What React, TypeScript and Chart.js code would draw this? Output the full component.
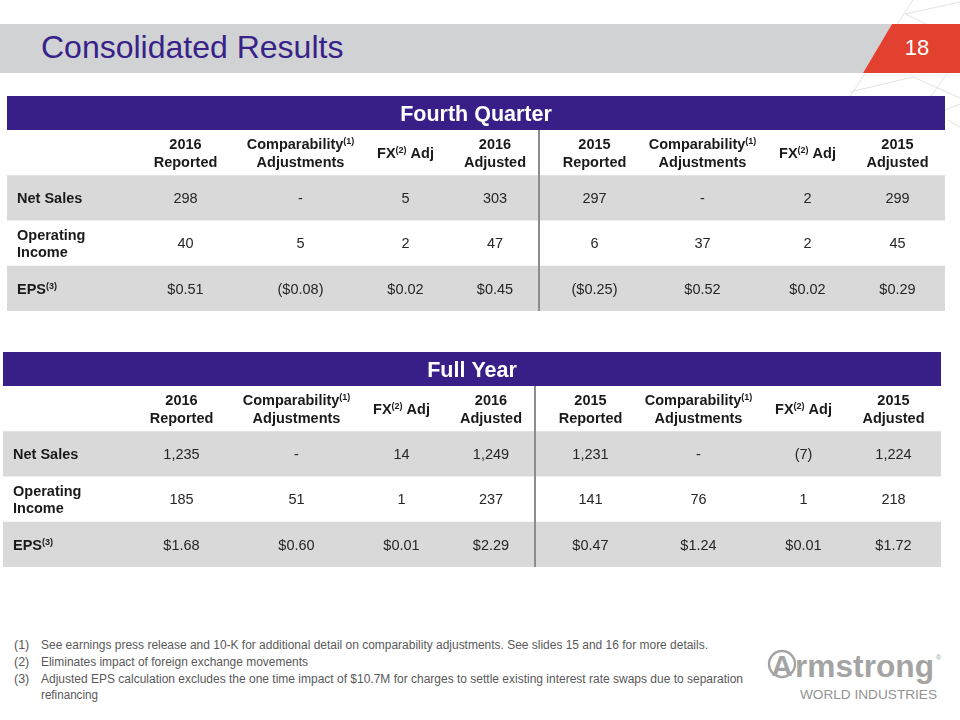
import React, { useEffect, useRef } from "react";
import { Chart, registerables } from "chart.js";

Chart.register(...registerables);

// ---------- data ----------
const slideTitle = "Consolidated Results";
const pageNumber = "18";
const columnLabels = [
  "2016\nReported",
  "Comparability^(1)\nAdjustments",
  "FX^(2) Adj",
  "2016\nAdjusted",
  "2015\nReported",
  "Comparability^(1)\nAdjustments",
  "FX^(2) Adj",
  "2015\nAdjusted",
];
const rowLabels = ["Net Sales", "Operating\nIncome", "EPS^(3)"];

const q4Title = "Fourth Quarter";
const q4NetSales = [298, null, 5, 303, 297, null, 2, 299];
const q4OperatingIncome = [40, 5, 2, 47, 6, 37, 2, 45];
const q4Eps = [0.51, -0.08, 0.02, 0.45, -0.25, 0.52, 0.02, 0.29];

const fyTitle = "Full Year";
const fyNetSales = [1235, null, 14, 1249, 1231, null, -7, 1224];
const fyOperatingIncome = [185, 51, 1, 237, 141, 76, 1, 218];
const fyEps = [1.68, 0.6, 0.01, 2.29, 0.47, 1.24, 0.01, 1.72];

const footnotes = [
  ["(1)", "See earnings press release and 10-K for additional detail on comparability adjustments. See slides 15 and 16 for more details."],
  ["(2)", "Eliminates impact of foreign exchange movements"],
  ["(3)", "Adjusted EPS calculation excludes the one time impact of $10.7M for charges to settle existing interest rate swaps due to separation"],
  ["", "refinancing"],
];

// ---------- layout / style ----------
const COL_WIDTHS = [123, 111, 119, 91, 88, 111, 105, 105, 75];
const TABLE_W = 938;
const TABLE_H = 215;
const BAND_H = 34;
const ROW_H = (TABLE_H - BAND_H) / 4;
const DIVIDER_AFTER = 5;
const PURPLE = "#381f88";
const STRIPE = "#d9d9d9";
const FONT = '"Liberation Sans", Arial, sans-serif';
const NARROW = '"Liberation Sans Narrow", "Arial Narrow", "Liberation Sans", sans-serif';

function fmtInt(v: number | null): string {
  if (v === null) return "-";
  const s = Math.abs(v).toLocaleString("en-US");
  return v < 0 ? `(${s})` : s;
}
function fmtEps(v: number | null): string {
  if (v === null) return "-";
  const s = "$" + Math.abs(v).toFixed(2);
  return v < 0 ? `(${s})` : s;
}

type Seg = { t: string; sup: boolean };
function parseRich(s: string): Seg[] {
  return s
    .split(/(\^\([^)]*\))/)
    .filter((p) => p.length > 0)
    .map((p) => (p.startsWith("^") ? { t: p.slice(1), sup: true } : { t: p, sup: false }));
}

function drawRich(
  ctx: CanvasRenderingContext2D,
  s: string,
  x: number,
  baseline: number,
  align: "left" | "center",
  font: string,
  supFont: string
) {
  const segs = parseRich(s);
  const widths = segs.map((g) => {
    ctx.font = g.sup ? supFont : font;
    return ctx.measureText(g.t).width;
  });
  const total = widths.reduce((a, b) => a + b, 0);
  let cx = align === "center" ? x - total / 2 : x;
  ctx.textAlign = "left";
  ctx.textBaseline = "alphabetic";
  segs.forEach((g, i) => {
    ctx.font = g.sup ? supFont : font;
    ctx.fillText(g.t, cx, g.sup ? baseline - 5 : baseline);
    cx += widths[i];
  });
}

type Row = { label: string; values: (number | null)[]; fmt: (v: number | null) => string };

function tablePlugin(title: string, rows: Row[]) {
  return {
    id: "tablePlugin",
    afterDraw(chart: any) {
      const ctx: CanvasRenderingContext2D = chart.ctx;
      const xs = chart.scales.x;
      const ys = chart.scales.y;
      const X = (v: number) => xs.getPixelForValue(v);
      const Y = (v: number) => ys.getPixelForValue(v);
      const edges = [0];
      COL_WIDTHS.forEach((w) => edges.push(edges[edges.length - 1] + w));
      ctx.save();
      const rowTop = (i: number) => BAND_H + ROW_H * i;
      ctx.fillStyle = "#ffffff";
      ctx.fillRect(X(0), Y(0), X(TABLE_W) - X(0), Y(TABLE_H) - Y(0));
      // band
      ctx.fillStyle = PURPLE;
      ctx.fillRect(X(0), Y(0), X(TABLE_W) - X(0), Y(BAND_H) - Y(0));
      // stripes
      rows.forEach((_, r) => {
        if (r % 2 === 0) {
          ctx.fillStyle = STRIPE;
          const t = Y(rowTop(r + 1));
          const b = Y(rowTop(r + 2));
          ctx.fillRect(X(0), t, X(TABLE_W) - X(0), b - t);
        }
      });
      // divider
      ctx.strokeStyle = "#8c8c8c";
      ctx.lineWidth = 2;
      ctx.beginPath();
      ctx.moveTo(X(edges[DIVIDER_AFTER]), Y(BAND_H));
      ctx.lineTo(X(edges[DIVIDER_AFTER]), Y(TABLE_H));
      ctx.stroke();
      // band title
      ctx.fillStyle = "#ffffff";
      ctx.font = `bold 21.5px ${FONT}`;
      ctx.textAlign = "center";
      ctx.textBaseline = "alphabetic";
      ctx.fillText(title, X(TABLE_W / 2), Y(BAND_H / 2) + 7.6);
      // header
      const hFont = `bold 14.5px ${FONT}`;
      const supFont = `bold 9px ${FONT}`;
      ctx.fillStyle = "#1a1a1a";
      columnLabels.forEach((lab, c) => {
        const cx = X((edges[c + 1] + edges[c + 2]) / 2);
        const lines = lab.split("\n");
        const mid = Y(BAND_H + ROW_H / 2);
        const lh = 17.5;
        lines.forEach((ln, i) => {
          const m = mid + (i - (lines.length - 1) / 2) * lh;
          drawRich(ctx, ln, cx, m + 5.2, "center", hFont, supFont);
        });
      });
      // rows
      rows.forEach((row, r) => {
        const mid = Y(rowTop(r + 1) + ROW_H / 2);
        const lines = row.label.split("\n");
        ctx.fillStyle = "#1a1a1a";
        lines.forEach((ln, i) => {
          const m = mid + (i - (lines.length - 1) / 2) * 16.5;
          drawRich(ctx, ln, X(10), m + 5.2, "left", hFont, supFont);
        });
        ctx.fillStyle = "#262626";
        ctx.font = `14.5px ${FONT}`;
        ctx.textAlign = "center";
        ctx.textBaseline = "alphabetic";
        row.values.forEach((v, c) => {
          const cx = X((edges[c + 1] + edges[c + 2]) / 2);
          ctx.fillText(row.fmt(v), cx, mid + 5.2);
        });
      });
      ctx.restore();
    },
  };
}

function makeTable(canvas: HTMLCanvasElement, title: string, rows: Row[]) {
  return new Chart(canvas, {
    type: "scatter",
    data: { datasets: [] },
    options: {
      animation: false,
      responsive: false,
      maintainAspectRatio: false,
      events: [],
      layout: { padding: 0 },
      plugins: { legend: { display: false }, tooltip: { enabled: false }, title: { display: false } },
      scales: {
        x: { type: "linear", display: false, min: 0, max: TABLE_W },
        y: { type: "linear", display: false, min: 0, max: TABLE_H, reverse: true },
      },
    } as any,
    plugins: [tablePlugin(title, rows) as any],
  });
}

export default function App() {
  const q4Ref = useRef<HTMLCanvasElement>(null);
  const fyRef = useRef<HTMLCanvasElement>(null);

  useEffect(() => {
    const charts: Chart[] = [];
    if (q4Ref.current) {
      charts.push(
        makeTable(q4Ref.current, q4Title, [
          { label: rowLabels[0], values: q4NetSales, fmt: fmtInt },
          { label: rowLabels[1], values: q4OperatingIncome, fmt: fmtInt },
          { label: rowLabels[2], values: q4Eps, fmt: fmtEps },
        ])
      );
    }
    if (fyRef.current) {
      charts.push(
        makeTable(fyRef.current, fyTitle, [
          { label: rowLabels[0], values: fyNetSales, fmt: fmtInt },
          { label: rowLabels[1], values: fyOperatingIncome, fmt: fmtInt },
          { label: rowLabels[2], values: fyEps, fmt: fmtEps },
        ])
      );
    }
    return () => charts.forEach((c) => c.destroy());
  }, []);

  const noteLengths = [667, 267, 702, 57];

  return (
    <div
      style={{
        position: "fixed",
        left: 0,
        top: 0,
        width: 960,
        height: 720,
        background: "#ffffff",
        overflow: "hidden",
        fontFamily: FONT,
      }}
    >
      <svg width={960} height={720} style={{ position: "absolute", left: 0, top: 0 }}>
        <g stroke="#e2e2e2" strokeWidth={1} fill="none">
          <line x1={913} y1={0} x2={840} y2={112} />
          <line x1={960} y1={2} x2={905} y2={14} />
          <line x1={905} y1={14} x2={960} y2={40} />
          <line x1={850} y1={92} x2={913} y2={77} />
          <line x1={913} y1={77} x2={960} y2={98} />
          <line x1={960} y1={55} x2={900} y2={140} />
          <line x1={945} y1={110} x2={960} y2={104} />
          <line x1={948} y1={120} x2={960} y2={127} />
        </g>
        <polygon points="0,24 892,24 863,73 0,73" fill="#d1d2d4" />
        <polygon points="892,24 960,24 960,73 863,73" fill="#e2412f" />
        <text x={41} y={58} fontSize={32} fill="#37228a" fontFamily={FONT}>
          {slideTitle}
        </text>
        <text x={917} y={55} fontSize={22} fill="#ffffff" textAnchor="middle" fontFamily={NARROW}>
          {pageNumber}
        </text>
        <g fontFamily={NARROW} fontSize={12.5} fill="#595959">
          {footnotes.map((f, i) => {
            const y = [649, 666, 683, 699][i];
            return (
              <g key={i}>
                {f[0] ? (
                  <text x={14} y={y}>
                    {f[0]}
                  </text>
                ) : null}
                <text x={41} y={y} textLength={noteLengths[i]} lengthAdjust="spacingAndGlyphs">
                  {f[1]}
                </text>
              </g>
            );
          })}
        </g>
        <g fill="#a4a4a4" fontFamily={FONT}>
          <circle cx={782} cy={664} r={13} fill="none" stroke="#a4a4a4" strokeWidth={2.4} />
          <text x={782} y={676} fontSize={29} fontWeight="bold" textAnchor="middle">
            A
          </text>
          <text x={795} y={677} fontSize={31} fontWeight="bold" textLength={139} lengthAdjust="spacingAndGlyphs">
            rmstrong
          </text>
          <text x={936} y={660} fontSize={7}>
            ®
          </text>
          <text x={800} y={698.5} fontSize={13} fill="#939393" textLength={137} lengthAdjust="spacingAndGlyphs">
            WORLD INDUSTRIES
          </text>
        </g>
      </svg>
      <canvas
        ref={q4Ref}
        width={TABLE_W}
        height={TABLE_H}
        style={{ position: "absolute", left: 7, top: 96, width: TABLE_W, height: TABLE_H }}
      />
      <canvas
        ref={fyRef}
        width={TABLE_W}
        height={TABLE_H}
        style={{ position: "absolute", left: 3, top: 352, width: TABLE_W, height: TABLE_H }}
      />
    </div>
  );
}
